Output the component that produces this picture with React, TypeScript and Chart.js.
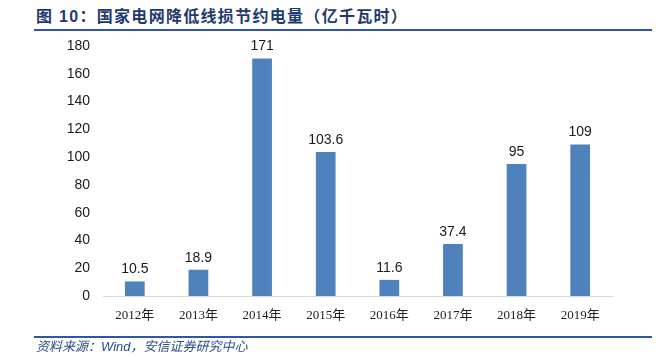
import React, { useEffect, useRef } from "react";
import { Chart, registerables } from "chart.js";

Chart.register(...registerables);

const categories = ["2012年", "2013年", "2014年", "2015年", "2016年", "2017年", "2018年", "2019年"];
const values = [10.5, 18.9, 171, 103.6, 11.6, 37.4, 95, 109];
const valueLabels = ["10.5", "18.9", "171", "103.6", "11.6", "37.4", "95", "109"];
const yTicks = [0, 20, 40, 60, 80, 100, 120, 140, 160, 180];

const titleText = "图 10：国家电网降低线损节约电量（亿千瓦时）";
const sourceText = "资料来源：Wind，安信证券研究中心";

const labelPlugin = {
  id: "valueLabels",
  afterDatasetsDraw(chart: any) {
    const ctx = chart.ctx;
    const meta = chart.getDatasetMeta(0);
    ctx.save();
    ctx.font = '14px "Liberation Sans", Arial, sans-serif';
    ctx.fillStyle = "#1a1a1a";
    ctx.textAlign = "center";
    ctx.textBaseline = "bottom";
    meta.data.forEach((bar: any, i: number) => {
      ctx.fillText(valueLabels[i], bar.x, bar.y - 5);
    });
    ctx.restore();
  },
};

export default function App() {
  const ref = useRef<HTMLCanvasElement>(null);
  useEffect(() => {
    const chart = new Chart(ref.current!, {
      type: "bar",
      data: {
        labels: categories,
        datasets: [
          {
            data: values,
            backgroundColor: "#4F81BD",
            borderWidth: 0,
            barPercentage: 0.31,
            categoryPercentage: 1,
          },
        ],
      },
      options: {
        animation: false,
        responsive: false,
        maintainAspectRatio: false,
        layout: { padding: { left: 0, right: 58, top: 46, bottom: 0 } },
        plugins: { legend: { display: false }, tooltip: { enabled: false } },
        scales: {
          x: {
            grid: { display: false, drawTicks: false },
            border: { display: true, color: "#D9D9D9", width: 1 },
            ticks: {
              padding: 12,
              color: "#222",
              font: { family: '"Liberation Serif", "Noto Sans CJK SC", serif', size: 13 },
            },
            afterFit: (s: any) => {
              s.height = 61;
            },
          },
          y: {
            min: 0,
            max: 180,
            grid: { display: false, drawTicks: false },
            border: { display: false },
            afterBuildTicks: (s: any) => {
              s.ticks = yTicks.map((v) => ({ value: v }));
            },
            ticks: {
              padding: 13,
              color: "#1a1a1a",
              font: { family: '"Liberation Sans", Arial, sans-serif', size: 14 },
            },
            afterFit: (s: any) => {
              s.width = 103;
            },
          },
        },
      },
      plugins: [labelPlugin],
    });
    return () => chart.destroy();
  }, []);

  return (
    <div style={{ position: "absolute", left: 0, top: 0, width: 670, height: 357, background: "#fff", overflow: "hidden" }}>
      <div
        style={{
          position: "absolute",
          left: 36,
          top: 7,
          fontFamily: '"Liberation Sans", "Noto Sans CJK SC", sans-serif',
          fontWeight: "bold",
          fontSize: 16,
          letterSpacing: 1.3,
          color: "#1F3A6E",
          whiteSpace: "nowrap",
          lineHeight: "20px",
        }}
      >
        {titleText}
      </div>
      <div style={{ position: "absolute", left: 34, top: 29, width: 618, height: 2, background: "#2F56A6" }} />
      <canvas ref={ref} width={670} height={357} style={{ position: "absolute", left: 0, top: 0 }} />
      <div style={{ position: "absolute", left: 34, top: 336, width: 618, height: 2, background: "#2F56A6" }} />
      <div
        style={{
          position: "absolute",
          left: 36,
          top: 338,
          fontFamily: '"Liberation Sans", "Noto Sans CJK SC", sans-serif',
          fontStyle: "italic",
          fontSize: 13,
          color: "#2B4C8C",
          whiteSpace: "nowrap",
          lineHeight: "18px",
        }}
      >
        {sourceText}
      </div>
    </div>
  );
}
